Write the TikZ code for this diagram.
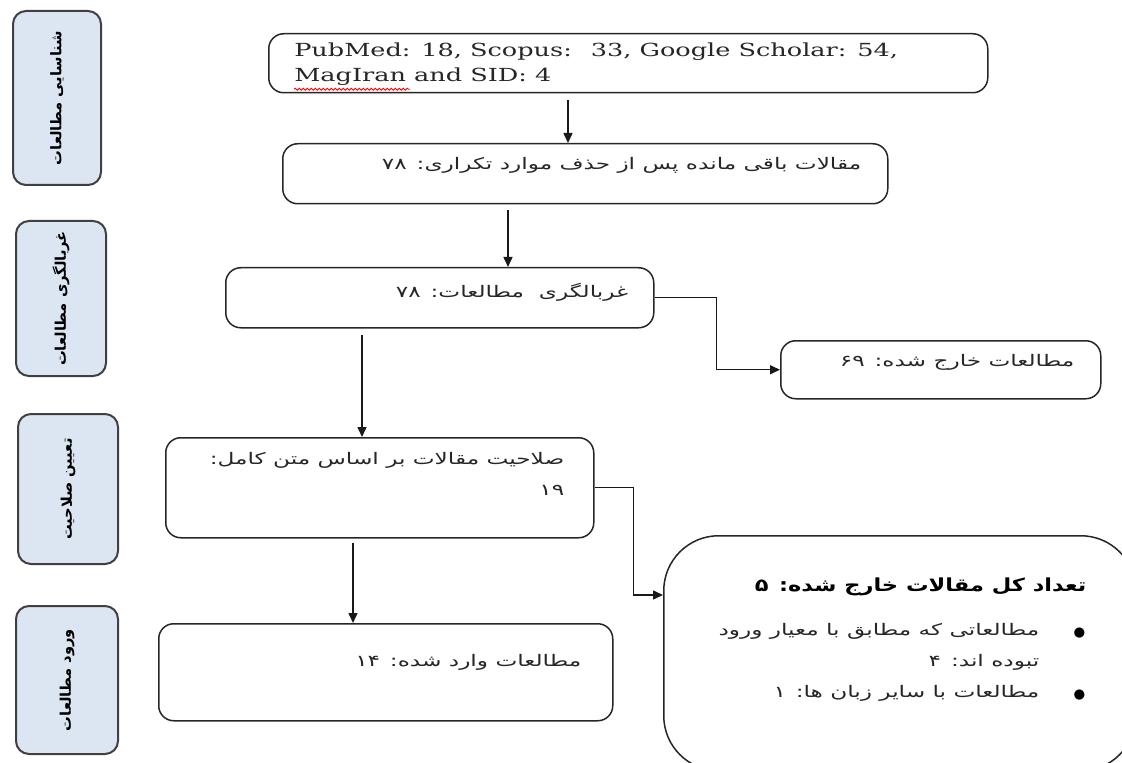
\documentclass[tikz,border=0pt]{standalone}
\usepackage{fontspec}
\setmainfont{DejaVu Serif}[FakeStretch=1.42]
\newfontfamily\farsi[Script=Arabic,FakeStretch=1.45]{DejaVu Sans}
\newfontfamily\farsiwide[Script=Arabic,FakeStretch=1.25]{DejaVu Sans}
\newfontfamily\farsititle[Script=Arabic]{DejaVu Sans}
\TeXXeTstate=1
\usetikzlibrary{
    arrows.meta,
    calc,
    positioning,
    decorations.pathmorphing
}
\definecolor{stagefill}{HTML}{DCE6F2}
\definecolor{stageline}{HTML}{404040}
\definecolor{ink}{HTML}{262626}
\newdimen\px \px=0.75pt

\begin{document}
\begin{tikzpicture}[x=0.75pt, y=-0.75pt,
    stagebox/.style={draw=stageline, fill=stagefill, line width=2\px, rounded corners=13\px, anchor=north west, inner sep=0pt},
    flowbox/.style={draw=black!85, line width=1.5\px, rounded corners=15\px, anchor=north west, inner sep=0pt},
    stagetext/.style={rotate=90, font=\farsititle\bfseries\fontsize{11pt}{13pt}\selectfont, text=black},
    fatext/.style={font=\farsi\fontsize{12pt}{23.25pt}\selectfont, text=ink, inner sep=0pt},
    dot/.style={font=\farsititle\fontsize{10pt}{12pt}\selectfont, text=black, inner sep=0pt},
    arr/.style={line width=1.1pt, black!90, -{Triangle[length=7.5pt, width=6.75pt]}}]
\clip (0,0) rectangle (1122,763);
% stages on the left
\node[stagebox, minimum width=88\px, minimum height=174\px] (s1) at (12,10) {};
\node[stagebox, minimum width=90\px, minimum height=155\px] (s2) at (15,220) {};
\node[stagebox, minimum width=100\px, minimum height=150\px] (s3) at (17,413) {};
\node[stagebox, minimum width=102\px, minimum height=148\px] (s4) at (15,605) {};
\node[stagetext] at (s1.center) {\beginR شناسایی مطالعات\endR};
\node[stagetext] at (s2.center) {\beginR غربالگری مطالعات\endR};
\node[stagetext] at (s3.center) {\beginR تعیین صلاحیت\endR};
\node[stagetext] at (s4.center) {\beginR ورود مطالعات\endR};
% flow boxes
\node[flowbox, minimum width=719\px, minimum height=59\px] (src) at (268,33) {};
\node[flowbox, minimum width=605\px, minimum height=60\px] (dedup) at (282,143) {};
\node[flowbox, minimum width=428\px, minimum height=60\px] (scr) at (225,267) {};
\node[flowbox, minimum width=320\px, minimum height=58\px] (out1) at (780,340) {};
\node[flowbox, minimum width=428\px, minimum height=100\px] (elig) at (165,437) {};
\node[flowbox, minimum width=472\px, minimum height=235\px, rounded corners=55\px] (out2) at (663,535) {};
\node[flowbox, minimum width=454\px, minimum height=97\px] (incl) at (158,623) {};
% texts
\node[anchor=north west, align=left, inner sep=0pt, text=ink, font=\fontsize{13.5pt}{18.75pt}\selectfont] (srct) at ($(src.north west)+(26,10)$)
    {PubMed: 18, Scopus:~ 33, Google Scholar: 54,\\MagIran and SID: 4};
\draw[red, line width=0.6pt, decorate, decoration={snake, amplitude=0.75pt, segment length=3pt}]
    ($(srct.south west)+(0,3)$) -- ++(116,0);
\node[fatext, anchor=east] at ($(dedup.north east)+(-27,22)$) {\beginR مقالات باقی مانده پس از حذف موارد تکراری: ۷۸\endR};
\node[fatext, anchor=east] at ($(scr.north east)+(-26,25)$) {\beginR غربالگری~ مطالعات: ۷۸\endR};
\node[fatext, anchor=east] at ($(out1.north east)+(-27,22)$) {\beginR مطالعات خارج شده: ۶۹\endR};
\node[fatext, anchor=north east, align=right] at ($(elig.north east)+(-30,15)$)
    {\beginR صلاحیت مقالات بر اساس متن کامل:\endR\\\beginR ۱۹\endR};
\node[fatext, anchor=east] at ($(incl.north east)+(-32,39)$) {\beginR مطالعات وارد شده: ۱۴\endR};
\node[anchor=east, inner sep=0pt, text=black, font=\farsiwide\bfseries\fontsize{13.5pt}{16pt}\selectfont]
    at ($(out2.north east)+(-50,52)$) {\beginR تعداد کل مقالات خارج شده: ۵\endR};
\node[fatext, anchor=north east, align=right] at ($(out2.north east)+(-97,88)$)
    {\beginR مطالعاتی که مطابق با معیار ورود\endR\\\beginR تبوده اند: ۴\endR\\\beginR مطالعات با سایر زبان ها: ۱\endR};
\node[dot] at ($(out2.north east)+(-57,98)$) {●};
\node[dot] at ($(out2.north east)+(-57,160)$) {●};
% connectors
\coordinate (ab) at (568,100);
\coordinate (bc) at (508,210);
\coordinate (ce) at (362,335);
\coordinate (eg) at (353,543);
\coordinate (f) at ($(out2.north west)+(0,60)$);
\draw[arr] (ab) -- (ab |- dedup.north);
\draw[arr] (bc) -- (bc |- scr.north);
\draw[arr] (ce) -- (ce |- elig.north);
\draw[arr] (eg) -- (eg |- incl.north);
\draw[arr] (scr.east) -- ++(62,0) |- (out1.west);
\draw[arr] (elig.east) -- ++(39,0) |- (f);
\end{tikzpicture}
\end{document}
